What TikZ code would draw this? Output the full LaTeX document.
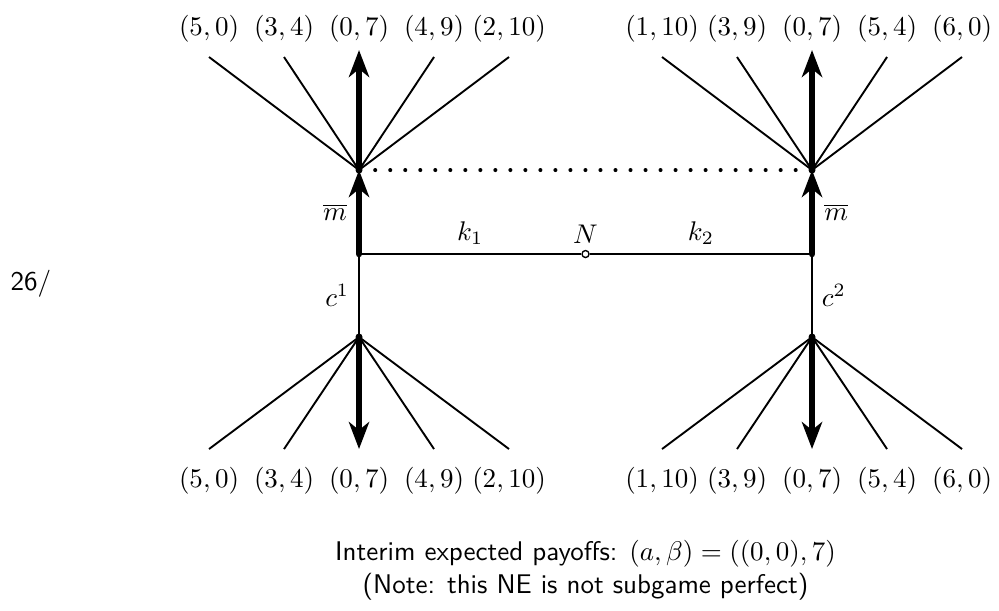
\documentclass[tikz,border=0pt]{standalone}
\usepackage{amsmath,amssymb}
\usepackage{tikz}
\usetikzlibrary{calc,positioning,arrows.meta}

\begin{document}
\begin{tikzpicture}[x=0.976cm, y=0.976cm,
	payoff/.style={inner sep=1pt},
	info/.style={font=\sffamily, inner sep=0pt},
	dec/.style={circle, fill=black, inner sep=0pt, minimum size=2.6pt},
	chance/.style={circle, draw=black, fill=white, line width=0.5pt, inner sep=0pt, minimum size=2.6pt},
	move/.style={line width=0.7pt},
	eqm/.style={line width=2.4pt, line cap=round, -{Stealth[length=10pt, width=7.5pt, inset=3pt]}},
	infoset/.style={line width=1.5pt, line cap=round, dash pattern=on 0pt off 5.56pt, shorten <=4.5pt, shorten >=4.5pt}]
\useasboundingbox (-7.807,-4.747) rectangle (5.513,3.387);

% nature and the two types
\node[chance] (N) at (0,0) {};
\node[above=0pt of N, inner sep=2pt] (Nlbl) {$N$};
\coordinate (h1) at (-3.02,0);
\coordinate (h2) at ( 3.02,0);
\node[dec] (a1) at (-3.02, 1.12) {};
\node[dec] (a2) at ( 3.02, 1.12) {};
\node[dec] (b1) at (-3.02,-1.107) {};
\node[dec] (b2) at ( 3.02,-1.107) {};

\draw[move] (N) -- node[above] (k1) {$k_1$} (h1);
\draw[move] (N) -- node[above] (k2) {$k_2$} (h2);
\draw[move] (h1) -- node[left] (c1) {$c^1$} (b1.center);
\draw[move] (h2) -- node[right] (c2) {$c^2$} (b2.center);
\draw[eqm] (h1) -- node[left] (m1) {$\overline{m}$} (a1.center);
\draw[eqm] (h2) -- node[right] (m2) {$\overline{m}$} (a2.center);

\draw[infoset] (a1) -- (a2);

% responses of player 2 after each message
\foreach \dx/\pay [count=\i] in {-2/{(5,0)},-1/{(3,4)},0/{(0,7)},1/{(4,9)},2/{(2,10)}} {
	\node[payoff] (pa1\i) at ($(a1)+(\dx,1.88)$) {$\pay$};
	\node[payoff] (pb1\i) at ($(b1)+(\dx,-1.92)$) {$\pay$};
}
\foreach \dx/\pay [count=\i] in {-2/{(1,10)},-1/{(3,9)},0/{(0,7)},1/{(5,4)},2/{(6,0)}} {
	\node[payoff] (pa2\i) at ($(a2)+(\dx,1.88)$) {$\pay$};
	\node[payoff] (pb2\i) at ($(b2)+(\dx,-1.92)$) {$\pay$};
}
\foreach \t in {1,2} {
	\foreach \dx [count=\i] in {-2,-1,1,2} {
		\coordinate (ea\t\i) at ($(a\t)+(\dx,1.507)$);
		\coordinate (eb\t\i) at ($(b\t)+(\dx,-1.493)$);
		\draw[move] (a\t.center) -- (ea\t\i);
		\draw[move] (b\t.center) -- (eb\t\i);
	}
	\coordinate (ua\t) at ($(a\t)+(0,1.6)$);
	\coordinate (ub\t) at ($(b\t)+(0,-1.493)$);
	\draw[eqm] (a\t.center) -- (ua\t);
	\draw[eqm] (b\t.center) -- (ub\t);
}

\node[info, anchor=base west] (page) at (-7.673,-0.48) {26/};
\node[info, anchor=base] (interim) at (0,-4.08) {Interim expected payoffs: $(a,\beta)=((0,0),7)$};
\node[info, anchor=base] (note) at (0,-4.53) {(Note: this NE is not subgame perfect)};
\end{tikzpicture}
\end{document}
